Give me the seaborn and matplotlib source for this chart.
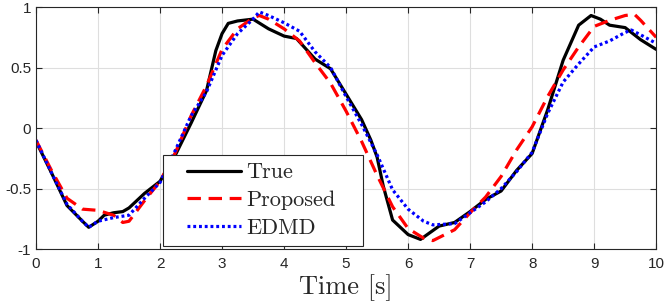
import numpy as np
import pandas as pd
import matplotlib
matplotlib.use('Agg')
import matplotlib.pyplot as plt
from matplotlib.legend_handler import HandlerLine2D
import seaborn as sns

# values
t_true = [0, 0.25, 0.5, 0.75, 0.85, 1.0, 1.1, 1.25, 1.4, 1.5, 1.75, 2.0, 2.25, 2.5, 2.75, 2.9, 3.0,
          3.1, 3.25, 3.5, 3.75, 4.0, 4.2, 4.5, 4.75, 5.0, 5.25, 5.4, 5.5, 5.6, 5.75, 6.0, 6.2,
          6.5, 6.75, 7.0, 7.25, 7.5, 7.75, 8.0, 8.25, 8.5, 8.75, 8.95, 9.1, 9.25, 9.5, 9.75, 10.0]
y_true = [-0.11, -0.37, -0.64, -0.77, -0.82, -0.77, -0.72, -0.70, -0.69, -0.66, -0.54, -0.44, -0.22,
          0.04, 0.31, 0.64, 0.78, 0.865, 0.885, 0.90, 0.82, 0.76, 0.74, 0.57, 0.49, 0.28, 0.07,
          -0.10, -0.24, -0.48, -0.76, -0.88, -0.92, -0.81, -0.78, -0.69, -0.59, -0.52, -0.35,
          -0.21, 0.15, 0.56, 0.85, 0.93, 0.90, 0.85, 0.83, 0.73, 0.65]

t_prop = [0, 0.25, 0.5, 0.75, 1.0, 1.25, 1.4, 1.5, 1.75, 2.0, 2.25, 2.5, 2.75, 3.0, 3.25, 3.5,
          3.6, 3.75, 4.0, 4.25, 4.5, 4.75, 5.0, 5.25, 5.5, 5.75, 6.0, 6.25, 6.4, 6.75, 7.0,
          7.25, 7.5, 7.75, 8.0, 8.25, 8.5, 8.75, 9.0, 9.25, 9.5, 9.65, 9.75, 10.0]
y_prop = [-0.10, -0.35, -0.58, -0.67, -0.68, -0.72, -0.78, -0.77, -0.60, -0.44, -0.20, 0.10,
          0.35, 0.65, 0.82, 0.91, 0.93, 0.90, 0.82, 0.72, 0.54, 0.37, 0.14, -0.11, -0.39, -0.65,
          -0.83, -0.91, -0.93, -0.84, -0.70, -0.57, -0.40, -0.18, 0.01, 0.26, 0.48, 0.67, 0.84,
          0.89, 0.93, 0.94, 0.89, 0.75]

t_edmd = [0, 0.25, 0.5, 0.75, 0.85, 1.0, 1.25, 1.5, 1.75, 2.0, 2.25, 2.5, 2.75, 3.0, 3.25, 3.5,
          3.6, 3.75, 4.0, 4.25, 4.5, 4.75, 5.0, 5.25, 5.5, 5.75, 6.0, 6.25, 6.4, 6.75, 7.0,
          7.25, 7.5, 7.75, 8.0, 8.25, 8.5, 8.75, 9.0, 9.25, 9.5, 9.6, 9.75, 10.0]
y_edmd = [-0.10, -0.37, -0.63, -0.77, -0.82, -0.77, -0.74, -0.72, -0.58, -0.45, -0.18, 0.10,
          0.30, 0.60, 0.78, 0.90, 0.96, 0.93, 0.87, 0.80, 0.63, 0.50, 0.26, 0.03, -0.22, -0.51,
          -0.67, -0.77, -0.80, -0.79, -0.70, -0.61, -0.50, -0.36, -0.20, 0.12, 0.38, 0.53, 0.67,
          0.72, 0.79, 0.81, 0.77, 0.70]

sns.set_style('ticks')
plt.rcParams['font.family'] = ['Liberation Sans', 'DejaVu Sans']

fig = plt.figure(figsize=(6.64, 3.06), dpi=100)
ax = fig.add_axes([0.0542, 0.186, 0.934, 0.791])

sns.lineplot(x=t_true, y=y_true, ax=ax, color='black', lw=2.3, label='True')
sns.lineplot(x=t_prop, y=y_prop, ax=ax, color='red', lw=2.3, label='Proposed')
sns.lineplot(x=t_edmd, y=y_edmd, ax=ax, color='blue', lw=2.3, label='EDMD')
ax.lines[1].set_dashes([4.2, 2.4])
ax.lines[2].set_dashes([0.9, 0.9])

ax.set_xlim(0, 10)
ax.set_ylim(-1, 1)
ax.set_xticks(range(0, 11))
ax.set_yticks([-1, -0.5, 0, 0.5, 1])
ax.set_yticklabels(['-1', '-0.5', '0', '0.5', '1'])
ax.grid(True, color='#dedede', lw=0.8)
ax.tick_params(direction='in', labelsize=11, color='#262626', labelcolor='#262626',
               length=4, top=True, right=True)
ax.tick_params(axis='x', pad=6)
for s in ax.spines.values():
    s.set_color('#262626')
    s.set_linewidth(0.8)
ax.set_xlabel('Time [s]', family='cmr10', fontsize=19, labelpad=2)

# shift the legend line samples right, like the MATLAB legend
hl = HandlerLine2D(xpad=0.74)
leg = ax.legend(loc='lower left', bbox_to_anchor=(0.205, 0.014, 0.3226, 0.37), mode='expand',
                borderaxespad=0, handler_map={l: hl for l in ax.lines},
                frameon=True, fancybox=False, edgecolor='#262626', handlelength=3.14,
                borderpad=0.35, labelspacing=0.37, handletextpad=0.24,
                prop={'family': 'cmr10', 'size': 16})
leg.get_frame().set_linewidth(0.8)
leg.get_frame().set_alpha(1)

fig.savefig('out.png', dpi=100)
